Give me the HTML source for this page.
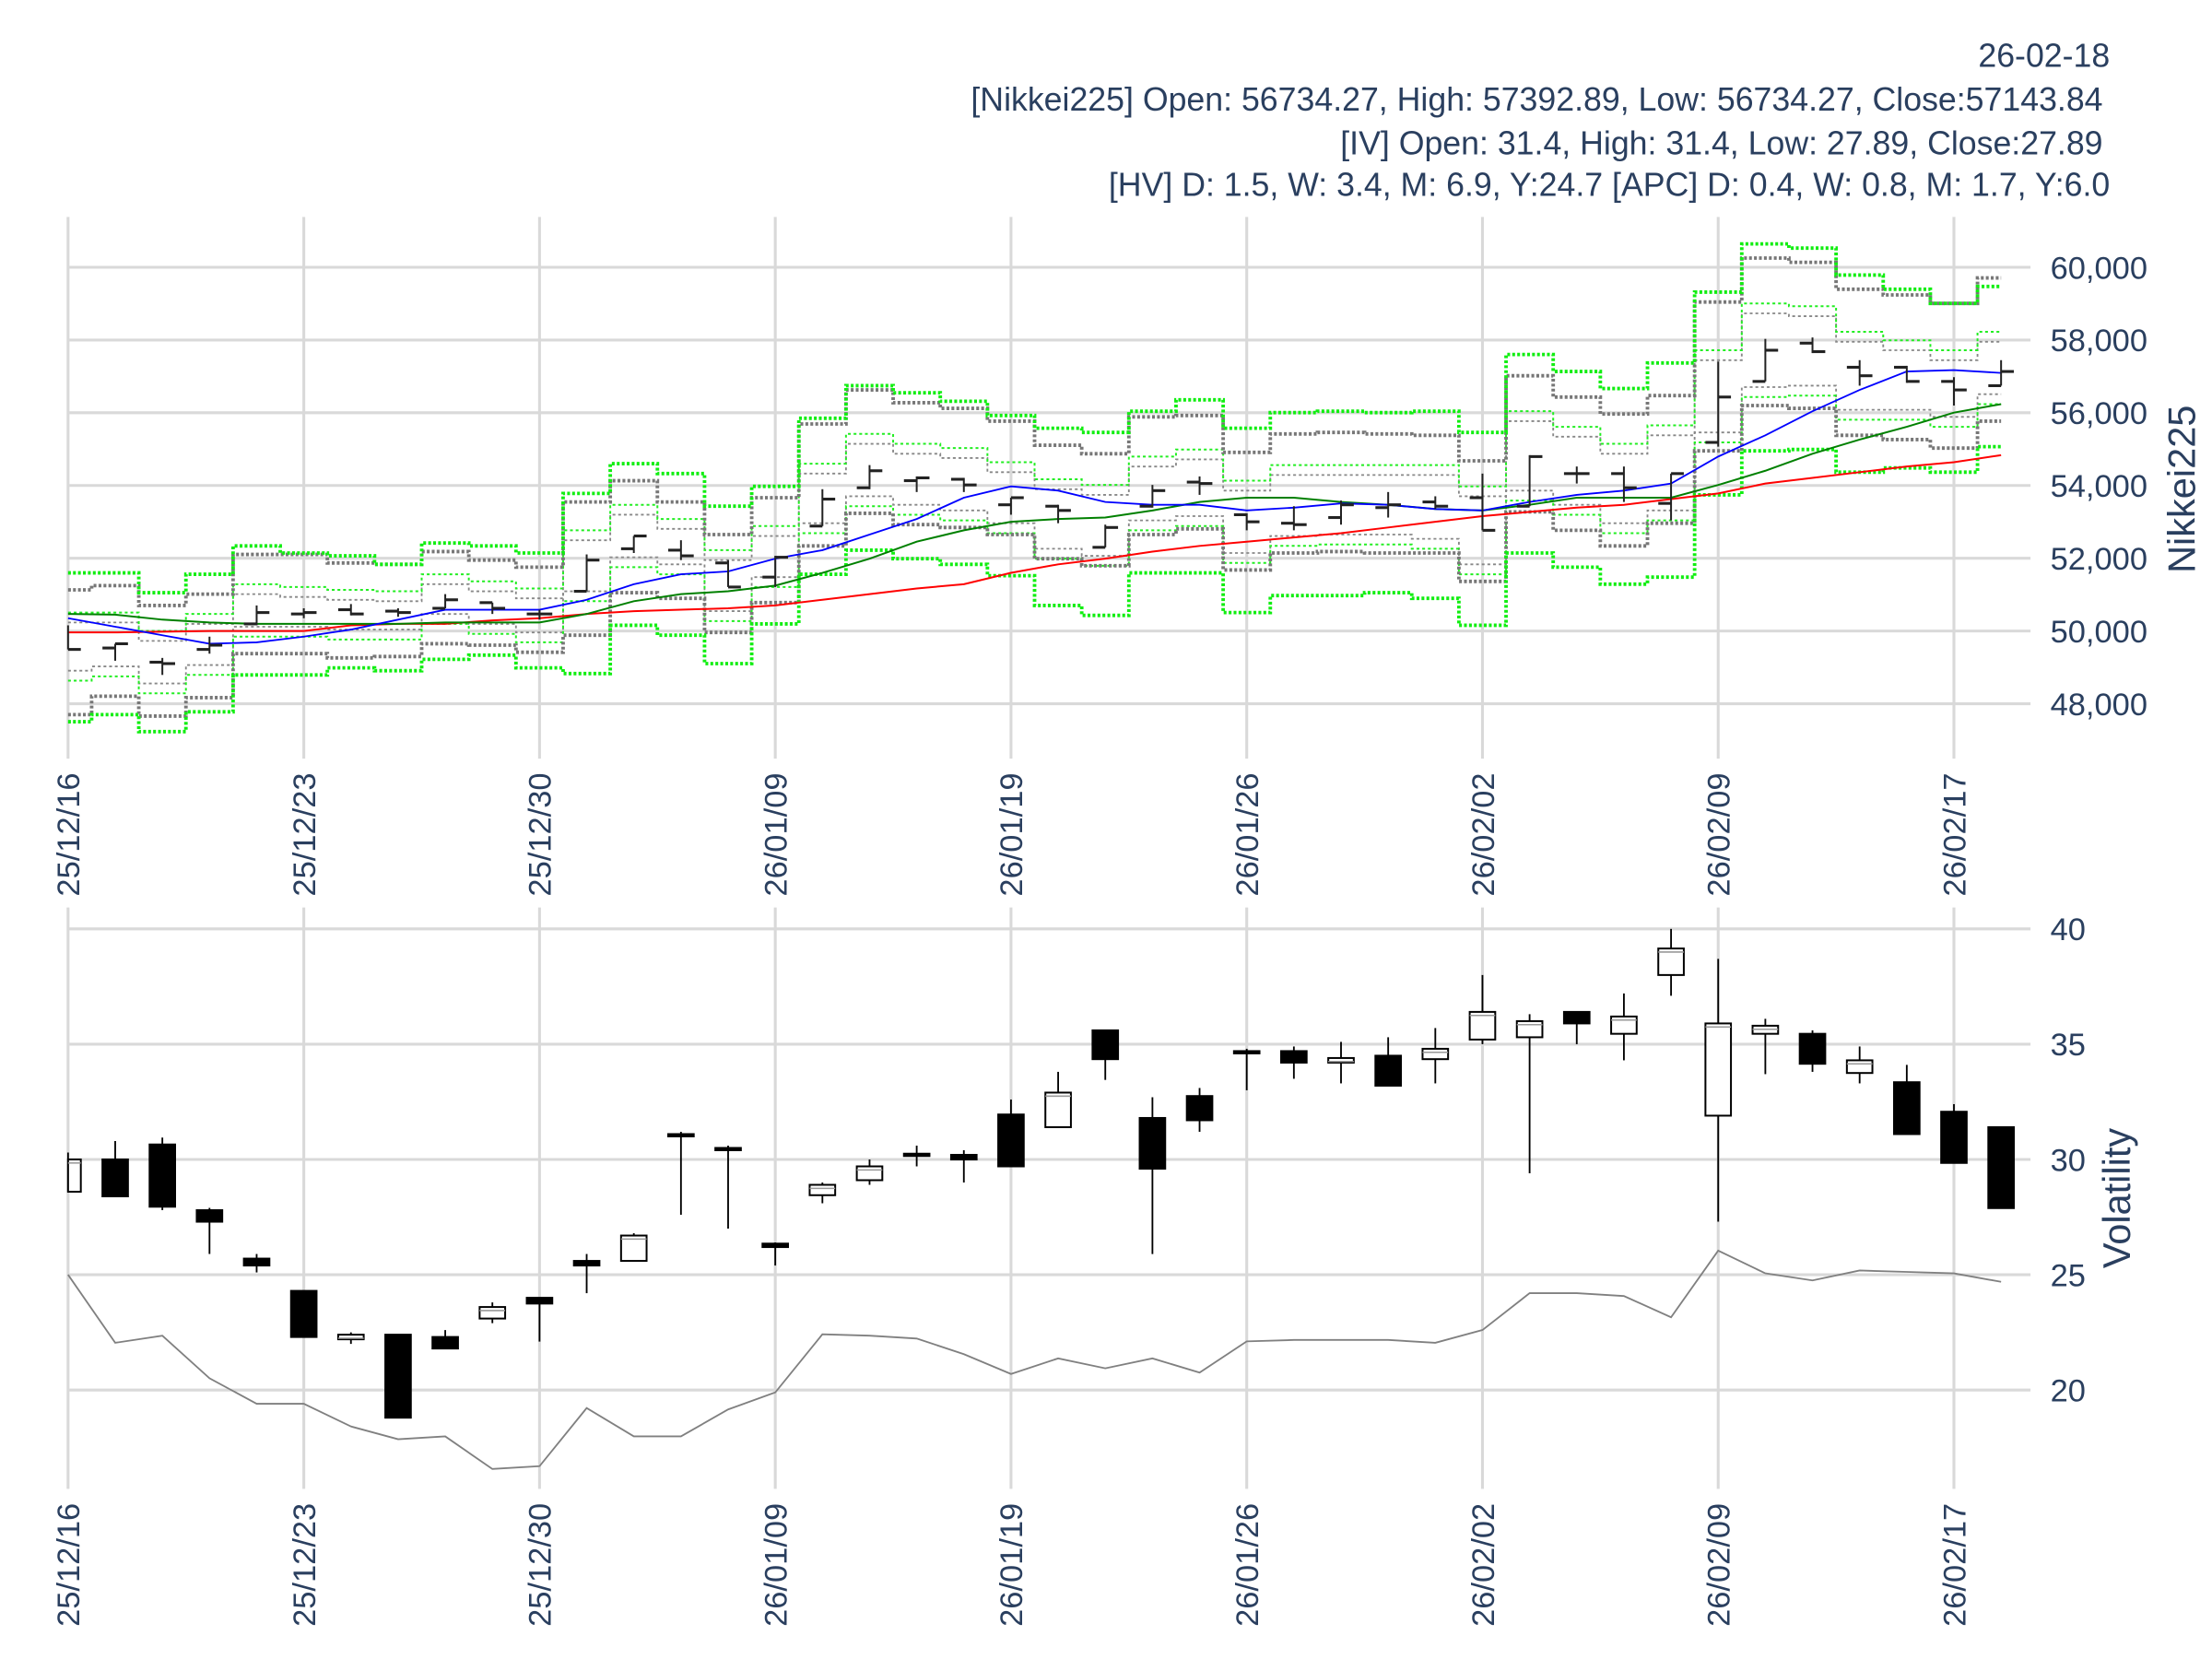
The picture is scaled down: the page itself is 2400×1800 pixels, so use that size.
<!DOCTYPE html>
<html><head><meta charset="utf-8"><style>
html,body{margin:0;padding:0;background:#fff;}
svg{display:block;}
text{font-family:"Liberation Sans",sans-serif;fill:#2a3f5f;}
</style></head><body>
<svg id="s" width="2400" height="1800" viewBox="0 0 1560 1170" xmlns="http://www.w3.org/2000/svg">
<rect width="1560" height="1170" fill="#fff"/>
<g font-size="23.2" text-anchor="end">
<text x="1488" y="47">26-02-18</text>
<text x="1483" y="78">[Nikkei225] Open: 56734.27, High: 57392.89, Low: 56734.27, Close:57143.84</text>
<text x="1483" y="109">[IV] Open: 31.4, High: 31.4, Low: 27.89, Close:27.89</text>
<text x="1488" y="138">[HV] D: 1.5, W: 3.4, M: 6.9, Y:24.7 [APC] D: 0.4, W: 0.8, M: 1.7, Y:6.0</text>
</g>
<g id="g"></g>
</svg>
<script>
const NS="http://www.w3.org/2000/svg";
const G=document.getElementById('g');
function el(t,a,txt){const e=document.createElementNS(NS,t);for(const k in a)e.setAttribute(k,a[k]);if(txt!==undefined)e.textContent=txt;G.appendChild(e);return e;}
const X=i=>48+i*33.25;
const dates=["25/12/16","25/12/23","25/12/30","26/01/09","26/01/19","26/01/26","26/02/02","26/02/09","26/02/17"];
const TY=v=>445-(v-50000)/2000*51.3;
const BY=v=>899-(v-25)*16.26;
for(let k=0;k<9;k++){const x=X(k*5);
 el('line',{x1:x,x2:x,y1:153,y2:535,stroke:'#d9d9d9','stroke-width':2});
 el('line',{x1:x,x2:x,y1:640,y2:1050,stroke:'#d9d9d9','stroke-width':2});
 el('text',{transform:`translate(${x+8},545) rotate(-90)`,'font-size':22.4,'text-anchor':'end'},dates[k]);
 el('text',{transform:`translate(${x+8},1060) rotate(-90)`,'font-size':22.4,'text-anchor':'end'},dates[k]);
}
[48000,50000,52000,54000,56000,58000,60000].forEach(v=>{const y=TY(v);
 el('line',{x1:48,x2:1432,y1:y,y2:y,stroke:'#d9d9d9','stroke-width':2});
 el('text',{x:1446,y:y+8,'font-size':22.4},v.toLocaleString('en-US'));});
[20,25,30,35,40].forEach(v=>{const y=BY(v);
 el('line',{x1:48,x2:1432,y1:y,y2:y,stroke:'#d9d9d9','stroke-width':2});
 el('text',{x:1446,y:y+8,'font-size':22.4},String(v));});
el('text',{transform:'translate(1548,345) rotate(-90)','font-size':27,'text-anchor':'middle'},'Nikkei225');
el('text',{transform:'translate(1502,845) rotate(-90)','font-size':27,'text-anchor':'middle'},'Volatility');
function step(arr,stroke,w,dash){let d='';arr.forEach((y,i)=>{const a=i==0?X(0):X(i)-16.625,b=i==arr.length-1?X(i):X(i)+16.625;d+=(i==0?`M${a} ${y}`:`V${y}`)+`H${b}`;});
 el('path',{d,fill:'none',stroke,'stroke-width':w,'stroke-dasharray':dash});}
const GU=[404,404,418,405,385,390,392,398,383,385,390,348,327,334,357,343,295,272,277,283,293,302,305,290,282,302,291,290,291,290,305,250,262,274,256,206,172,175,194,204,214,202];
const GL=[509,504,516,502,476,476,471,473,465,462,471,475,441,448,468,440,405,388,394,398,406,427,434,404,404,432,420,420,418,422,441,390,400,412,407,349,318,317,333,330,333,315];
const YU=[416,413,427,419,391,391,397,398,389,395,400,354,339,354,377,351,299,275,284,288,297,314,320,294,293,319,306,305,306,307,325,265,280,292,279,213,182,185,204,208,214,196];
const YL=[504,491,505,492,461,461,464,463,454,455,460,448,418,422,446,425,385,362,370,372,377,394,399,377,373,402,390,389,390,390,410,361,374,385,369,318,286,288,307,310,316,297];
const gu=[432,432,445,433,412,414,416,417,405,410,415,374,356,366,388,371,327,306,313,316,326,338,342,322,317,339,328,328,328,328,343,290,301,313,300,247,214,216,234,240,247,234];
const gl=[480,477,489,476,449,449,451,451,440,447,453,424,400,405,438,414,376,357,363,367,376,394,399,374,371,397,385,384,384,387,405,353,363,376,367,312,280,279,296,296,301,285];
step(gu.map(v=>v+7),'#888',1.2,'2,2');
step(gl.map(v=>v-7),'#888',1.2,'2,2');
step(gu,'#22ee22',1.3,'2,2');
step(gl,'#22ee22',1.3,'2,2');
step(YU,'#777',2.5,'2,1.5');
step(YL,'#777',2.5,'2,1.5');
step(GU,'#11ee11',2.5,'2,1.5');
step(GL,'#11ee11',2.5,'2,1.5');
function line(arr,stroke,w){el('polyline',{points:arr.map((y,i)=>X(i)+','+y).join(' '),fill:'none',stroke,'stroke-width':w});}
const RED=[446,446,445.5,445,445,445,441,440,440,437.5,436,433,431,430,429,427,423,419,415,412,404,398,394,389,385,382,379,376,372,368,364,361,358,356,352,348,341,337,333,329,326,321];
const GRN=[433,433.5,437,439,440,440,440,440,439,439,439,433,424,419,417,413,404,394,382,374,368,366,365,360,354,351,351,354,356,359,360,356,351,351,351,342,332,320,310,301,291,285];
const BLU=[436,442,448,454,453,449,444,437,430,430,430,423,412,405,403,394,388,377,366,351,343,346,354,356,356,360,358,355,356,359,360,354,349,346,341,322,307,290,275,262,261,263];
line(RED,'#ff0000',1.3);line(GRN,'#008000',1.3);line(BLU,'#0000ff',1.2);
const OB=[[441,458,441,458],[457,454,454,466],[467,468,464,476],[458,455,449,461],[440,432,427,441],[433,432,429,436],[430,433,426,434],[431,432,429,435],[429,423,419,429],[425,429,425,433],[433,433,430,437],[417,395,391,417],[387,378,378,390],[388,392,381,395],[397,414,395,414],[407,393,392,414],[371,352,345,371],[344,332,328,345],[339,337,336,347],[338,342,337,347],[356,351,351,363],[357,360,356,369],[386,372,370,386],[357,346,342,358],[340,341,336,349],[363,368,362,374],[369,370,357,374],[365,356,353,370],[358,356,347,365],[354,357,350,359],[351,374,334,374],[357,322,321,357],[334,334,329,341],[334,344,329,354],[355,334,334,367],[312,280,255,315],[269,247,239,269],[242,248,238,249],[259,265,254,272],[259,269,258,270],[269,275,266,286],[272,262,254,272]];
OB.forEach((b,i)=>{const x=X(i);const c='#222';
 el('line',{x1:x,x2:x,y1:b[2],y2:b[3],stroke:c,'stroke-width':1.3});
 if(i>0)el('line',{x1:x-9,x2:x,y1:b[0],y2:b[0],stroke:c,'stroke-width':2});
 el('line',{x1:x,x2:x+9,y1:b[1],y2:b[1],stroke:c,'stroke-width':2});});
const HV=[899,947,942,972,990,990,1006,1015,1013,1036,1034,993,1013,1013,994,982,941,942,944,955,969,958,965,958,968,946,945,945,945,947,938,912,912,914,929,882,898,903,896,897,898,904];
line(HV,'#808080',1.2);
const C=[[28.6,30.0,30.3,28.6],[30.0,28.4,30.8,28.4],[30.65,27.95,30.95,27.8],[27.8,27.3,27.9,25.9],[25.7,25.4,25.9,25.1],[24.3,22.3,24.3,22.3],[22.2,22.4,22.5,22.0],[22.4,18.8,22.4,18.8],[22.3,21.8,22.6,21.8],[23.1,23.6,23.8,22.9],[24.0,23.75,24.0,22.1],[25.6,25.4,25.9,24.2],[25.6,26.7,26.8,25.6],[31.1,31.0,31.2,27.6],[30.5,30.4,30.6,27.0],[26.35,26.2,26.4,25.4],[28.45,28.9,29.0,28.1],[29.1,29.7,30.0,28.9],[30.25,30.15,30.6,29.7],[30.2,30.0,30.4,29.0],[31.95,29.7,32.6,29.7],[31.4,32.9,33.8,31.4],[35.6,34.35,35.6,33.45],[31.8,29.6,32.7,25.9],[32.75,31.7,33.1,31.2],[34.7,34.6,34.8,33.0],[34.7,34.2,34.9,33.5],[34.2,34.4,35.1,33.3],[34.5,33.2,35.3,33.2],[34.35,34.8,35.7,33.3],[35.2,36.4,38.0,35.0],[35.3,36.0,36.3,29.4],[36.4,35.9,36.4,35.0],[35.45,36.2,37.2,34.3],[38.0,39.15,40.0,37.1],[31.9,35.9,38.7,27.3],[35.45,35.8,36.1,33.7],[35.45,34.15,35.6,33.8],[33.75,34.3,34.9,33.3],[33.35,31.1,34.1,31.1],[32.07,29.85,32.4,29.85],[31.4,27.89,31.4,27.89]];
C.forEach((c,i)=>{const x=X(i);const up=c[1]>=c[0];
 el('line',{x1:x,x2:x,y1:BY(c[2]),y2:BY(c[3]),stroke:'#000','stroke-width':1.2});
 const t=BY(Math.max(c[0],c[1])),b=BY(Math.min(c[0],c[1]));
 const x0=i==0?X(0):x-9,w=i==0?9:18;
 el('rect',{x:x0,y:t,width:w,height:Math.max(b-t,1.5),fill:up?'#fff':'#000',stroke:'#000','stroke-width':1.3});
 if(up)el('line',{x1:x0,x2:x0+w,y1:t+2.5,y2:t+2.5,stroke:'#999','stroke-width':1});});
</script>
</body></html>
